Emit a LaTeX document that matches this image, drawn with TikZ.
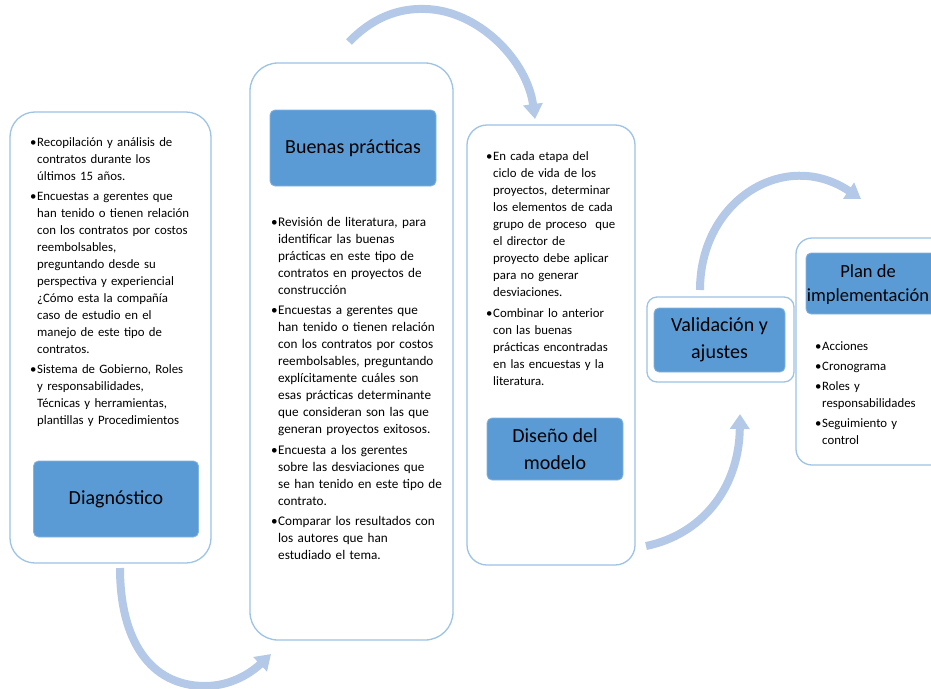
\documentclass[tikz,border=0pt]{standalone}
\usepackage{fontspec}
\setmainfont{Carlito}
\usetikzlibrary{arrows.meta}
\definecolor{outerc}{HTML}{9DC3E6}
\definecolor{innerc}{HTML}{5B9BD5}
\definecolor{innerb}{HTML}{84B4E0}
\definecolor{arrc}{HTML}{B4C8E8}
\newcommand\bul{\noindent\llap{•\hspace{0.6pt}}}
\newcommand\gap[1]{\par\vspace{#1}}
\begin{document}
\begin{tikzpicture}[x=1pt,y=-1pt,
  outerbox/.style={draw=outerc, line width=1.3pt, fill=white, rounded corners=#1, inner sep=0pt},
  innerbox/.style={draw=innerb, line width=0.8pt, fill=innerc, rounded corners=5pt, inner sep=0pt},
  titletext/.style={align=center, inner sep=0pt, text=black, font=\fontsize{20}{27}\selectfont},
  bodytext/.style={anchor=base west, inner sep=0pt, align=left, text width=#1, font=\fontsize{12.8}{17}\selectfont},
  flow/.style={draw=arrc, line width=8pt, -{Triangle[width=19pt,length=15pt]}}]
\path[use as bounding box] (0,0) rectangle (931,688);
\clip (0,0) rectangle (931,688);
\fill[white] (0,0) rectangle (931,688);

% outer panels
\node[outerbox=25pt, minimum width=201pt, minimum height=451pt] (o1) at (110.5,337.5) {};
\node[outerbox=28pt, minimum width=203pt, minimum height=577pt] (o2) at (351.5,351.5) {};
\node[outerbox=20pt, minimum width=168pt, minimum height=440pt] (o3) at (551,345) {};
\node[outerbox=10pt, minimum width=147pt, minimum height=85pt] (o4) at (720.5,339.5) {};
\node[outerbox=16pt, minimum width=154pt, minimum height=227pt] (o5) at (873,351.5) {};

% inner title boxes
\node[innerbox, minimum width=165pt, minimum height=76pt] (i1) at (116,499) {};
\node[titletext] (l1) at (i1.center) {Diagnóstico};
\node[innerbox, minimum width=166pt, minimum height=76pt] (i2) at (353,148) {};
\node[titletext] (l2) at (i2.center) {Buenas prácticas};
\node[innerbox, minimum width=136pt, minimum height=62pt] (i3) at (555,449) {};
\node[titletext] (l3) at (i3.center) {Diseño del\\modelo};
\node[innerbox, minimum width=131pt, minimum height=64pt] (i4) at (719.5,340) {};
\node[titletext] (l4) at (i4.center) {Validación y\\ajustes};
\node[innerbox, minimum width=134pt, minimum height=61pt] (i5) at (873,283.5) {};
\node[titletext, font=\fontsize{18.5}{24}\selectfont] (l5) at (868,285) {Plan de\\implementación};

% body texts
\node[bodytext=180pt] (t1) at (37,146) {\bul Recopilación y análisis de\\contratos durante los\\últimos 15 años.\gap{3.3pt}%
\bul Encuestas a gerentes que\\han tenido o tienen relación\\con los contratos por costos\\reembolsables,\\preguntando desde su\\perspectiva y experiencial\\¿Cómo esta la compañía\\caso de estudio en el\\manejo de este tipo de\\contratos.\gap{3.3pt}%
\bul Sistema de Gobierno, Roles\\y responsabilidades,\\Técnicas y herramientas,\\plantillas y Procedimientos};

\node[bodytext=180pt, font=\fontsize{13.2}{17}\selectfont] (t2) at (278,226) {\bul Revisión de literatura, para\\identificar las buenas\\prácticas en este tipo de\\contratos en proyectos de\\construcción\gap{3.5pt}%
\bul Encuestas a gerentes que\\han tenido o tienen relación\\con los contratos por costos\\reembolsables, preguntando\\explícitamente cuáles son\\esas prácticas determinante\\que consideran son las que\\generan proyectos exitosos.\gap{3.5pt}%
\bul Encuesta a los gerentes\\sobre las desviaciones que\\se han tenido en este tipo de\\contrato.\gap{3.5pt}%
\bul Comparar los resultados con\\los autores que han\\estudiado el tema.};

\node[bodytext=140pt] (t3) at (493,160) {\bul En cada etapa del\\ciclo de vida de los\\proyectos, determinar\\los elementos de cada\\grupo de proceso~ que\\el director de\\proyecto debe aplicar\\para no generar\\desviaciones.\gap{4pt}%
\bul Combinar lo anterior\\con las buenas\\prácticas encontradas\\en las encuestas y la\\literatura.};

\node[bodytext=110pt] (t5) at (822,350) {\bul Acciones\gap{3.3pt}%
\bul Cronograma\gap{3.3pt}%
\bul Roles y\\responsabilidades\gap{3.3pt}%
\bul Seguimiento y\\control};

% flow arrows
\coordinate (a1s) at (120,568);
\coordinate (a1m) at (205,686);
\coordinate (a1e) at (271,654);
\coordinate (a2s) at (349,42);
\coordinate (a2m) at (425,9);
\coordinate (a2e) at (535,119);
\coordinate (a3s) at (646,546);
\coordinate (a3e) at (740,414);
\coordinate (a4s) at (700,290);
\coordinate (a4e) at (861,199);

\draw[flow] (a1s) .. controls (120,640) and (150,686) .. (a1m) .. controls (232,686) and (252,672) .. (a1e);
\draw[flow] (a2s) .. controls (372,18) and (398,8) .. (a2m) .. controls (478,10) and (527,60) .. (a2e);
\draw[flow] (a3s) .. controls (700,535) and (739,490) .. (a3e);
\draw[flow] (a4s) .. controls (700,200) and (785,148) .. (a4e);
\end{tikzpicture}
\end{document}
